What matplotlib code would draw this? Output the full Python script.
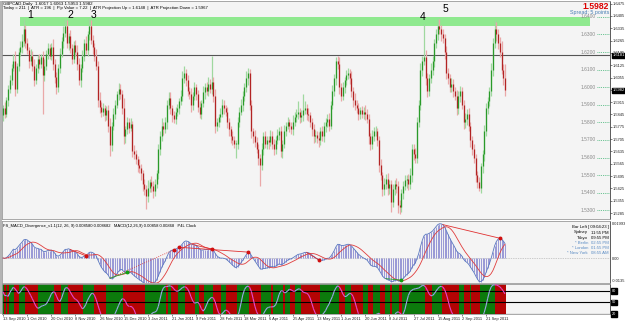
import matplotlib
matplotlib.use("Agg")
import matplotlib.pyplot as plt
from matplotlib.collections import LineCollection
import numpy as np
import pandas as pd

plt.rcParams['font.family'] = ['Liberation Sans', 'DejaVu Sans']

# ---------------- data (prices in 1/10000 units) ----------------
close_pips = [
    15880,15850,15930,15990,16040,16110,16150,15990,16120,16200,16230,16260,16330,16250,16210,16150,16180,16120,16040,16110,
    16160,16130,16170,16070,16120,16190,16220,16180,16230,16130,16060,16000,16110,16190,16260,16310,16350,16250,16290,16220,
    16160,16240,16200,16130,16040,16110,16180,16250,16210,16300,16350,16270,16230,16180,16120,15930,15890,15860,15880,15840,
    15870,15780,15670,15780,15850,15900,15960,15990,15960,15880,15720,15760,15800,15770,15790,15640,15620,15590,15560,15540,
    15510,15450,15420,15380,15430,15460,15440,15410,15450,15510,15650,15720,15780,15760,15800,15900,15940,15880,15840,15820,
    15860,15880,15920,15950,16050,16080,16040,15980,15960,15900,15950,16000,15960,15890,15850,15910,15970,16000,15980,16020,
    15990,16030,15950,15780,15800,15830,15850,15900,15880,15860,15800,15760,15720,15700,15680,15680,15800,15860,15900,15950,
    16000,16050,16080,15900,15750,15720,15690,15650,15600,15560,15650,15720,15680,15700,15690,15720,15680,15650,15700,15730,
    15750,15640,15680,15750,15780,15800,15780,15760,15800,15830,15850,15860,15830,15840,15870,15880,15850,15840,15800,15760,
    15720,15730,15710,15700,15750,15720,15780,15800,15820,15780,15900,15980,16050,16150,16130,16000,15950,16000,16040,16070,
    16080,16050,15980,15930,15900,15880,15850,15870,15850,15860,15850,15820,15720,15680,15720,15750,15750,15700,15560,15500,
    15420,15450,15480,15430,15450,15350,15420,15450,15440,15330,15320,15400,15440,15470,15480,15450,15500,15650,15620,15600,
    15800,15900,16100,16150,16170,16050,15980,16050,16100,16150,16250,16300,16350,16330,16300,16280,16200,16080,16050,16000,
    16020,15980,15950,15880,15950,15980,15900,15800,15820,15850,15780,15700,15650,15600,15500,15460,15430,15550,15620,15750,
    15880,15920,15980,16100,16250,16330,16300,16250,16200,16100,16050,15982,
]
upper_wick = [
    20,35,15,25,30,20,40,55,20,25,30,45,60,25,30,20,35,25,40,20,
    25,30,20,35,40,20,30,25,20,45,30,25,20,30,25,35,40,30,20,35,
    25,20,30,40,35,20,30,25,40,20,45,30,25,20,35,30,40,25,30,20,
    25,30,45,20,30,25,20,35,30,25,60,20,30,25,35,20,30,25,20,30,
    25,20,30,25,40,20,35,25,30,20,25,30,45,20,30,25,35,30,20,25,
    30,25,20,35,40,40,25,30,20,35,25,30,20,25,30,20,35,25,30,40,
    25,150,30,40,25,20,30,35,25,20,30,25,20,30,25,20,30,25,35,30,
    25,40,30,25,30,20,35,25,30,20,35,25,30,20,25,35,30,25,20,30,
    25,30,20,35,25,30,20,25,40,30,25,60,20,30,90,40,25,30,20,25,
    30,25,20,35,25,30,20,25,30,35,20,30,25,20,30,40,25,30,20,25,
    30,25,40,20,35,25,30,20,25,30,40,25,30,20,35,25,30,20,25,30,
    20,35,25,30,20,25,30,20,35,25,30,20,25,30,20,25,40,30,25,35,
    30,25,40,30,190,40,30,25,35,30,25,30,40,35,25,30,20,35,30,25,
    30,25,20,35,30,25,20,30,35,25,30,20,25,30,20,25,30,20,25,35,
    30,25,20,35,30,50,40,30,35,60,30,80,
]
lower_wick = [
    30,25,20,35,25,30,20,40,25,30,20,35,25,30,20,40,25,30,35,20,
    30,25,20,220,35,25,30,20,25,30,35,40,25,30,20,35,25,30,40,25,
    30,25,20,35,30,40,25,30,20,35,30,25,40,30,25,40,35,30,25,30,
    25,35,60,30,25,30,20,35,25,30,40,35,25,30,20,35,30,25,40,30,
    35,40,30,70,30,25,35,40,30,25,30,35,25,30,20,35,25,30,40,25,
    30,25,35,20,30,25,35,30,25,40,30,25,35,30,25,30,20,35,25,30,
    25,30,35,40,30,25,30,20,35,25,30,40,35,30,25,80,30,25,20,35,
    30,25,35,30,40,35,30,25,40,120,30,35,25,30,40,25,30,35,30,25,
    30,35,40,25,30,20,35,25,30,20,25,30,35,25,30,20,35,30,25,40,
    35,30,25,40,30,25,30,35,25,30,20,25,30,35,25,40,30,25,35,30,
    25,30,35,40,30,25,35,30,25,30,35,25,40,35,30,25,30,35,40,30,
    40,35,30,45,35,60,30,35,40,45,40,30,35,25,40,35,30,40,35,30,
    30,25,30,35,25,40,35,30,25,30,35,25,30,25,35,30,40,35,30,25,
    30,35,25,40,30,35,25,40,30,35,30,40,35,30,40,35,20,30,35,40,
    30,35,25,30,35,30,40,35,30,25,35,30,
]
first_open_pips = 15840

date_pos = [0, 14, 28, 42, 56, 70, 84, 98, 112, 126, 140, 154, 168, 182, 196, 210, 224, 238, 252, 266, 280]
date_labels = ['13 Sep 2010', '1 Oct 2010', '20 Oct 2010', '8 Nov 2010', '26 Nov 2010', '15 Dec 2010',
               '3 Jan 2011', '21 Jan 2011', '9 Feb 2011', '28 Feb 2011', '18 Mar 2011', '6 Apr 2011',
               '25 Apr 2011', '13 May 2011', '1 Jun 2011', '20 Jun 2011', '8 Jul 2011', '27 Jul 2011',
               '15 Aug 2011', '2 Sep 2011', '21 Sep 2011']

price_tick_labels = ['1.6475', '1.6405', '1.6335', '1.6265', '1.6195', '1.6125', '1.6055', '1.5985', '1.5915',
                     '1.5845', '1.5775', '1.5705', '1.5635', '1.5565', '1.5495', '1.5425', '1.5355', '1.5285']
level_labels = ['1.6400', '1.6300', '1.6200', '1.6100', '1.6000', '1.5900',
                '1.5800', '1.5700', '1.5600', '1.5500', '1.5400', '1.5300']

zone_low, zone_high = 1.6345, 1.6400
zone_bars = (10, 340)
hline_level = 1.6181
last_price = '1.5982'

peak_names = ['1', '2', '3', '4', '5']
peak_bars = [12, 36, 50, 244, 252]

red_div = [(39, 48), (102, 142), (110, 121), (176, 183), (255, 288)]
red_div_dotted = [(62, 99)]
green_div = [(62, 72), (222, 231)]
red_marks = [48, 99, 102, 121, 142, 183, 288]
green_marks = [72, 231]

header1 = 'GBPCAD,Daily  1.6017 1.6063 1.5953 1.5982'
header2 = 'Today = 211  |  ATR = 196  |  Pip Value = 7.22  |  ATR Projection Up = 1.6148  |  ATR Projection Down = 1.5967'
macd_header = 'FS_MACD_Divergence_v1.1(12, 26, 9) 0.008580 0.008682   MACD(12,26,9) 0.00858 0.00868   P4L Clock'
clock_names = ['Sydney', 'Tokyo', '* Berlin', '* London', '* New York']
clock_times = ['11:55 PM', '09:55 PM', '02:55 PM', '01:55 PM', '08:55 AM']

# ---------------- derived series ----------------
n = len(close_pips)
assert len(upper_wick) == n and len(lower_wick) == n, (n, len(upper_wick), len(lower_wick))
idx = np.arange(n)
closes = np.array(close_pips) / 10000.0
opens = np.concatenate([[first_open_pips], close_pips[:-1]]) / 10000.0
highs = np.maximum(opens, closes) + np.array(upper_wick) / 10000.0
lows = np.minimum(opens, closes) - np.array(lower_wick) / 10000.0
bull = closes >= opens

cs = pd.Series(closes)
macd = (cs.ewm(span=12, adjust=False).mean() - cs.ewm(span=26, adjust=False).mean()).values
signal = pd.Series(macd).rolling(9, min_periods=1).mean().values

hh = pd.Series(highs).rolling(14, min_periods=1).max()
ll = pd.Series(lows).rolling(14, min_periods=1).min()
k = 100 * (cs - ll) / (hh - ll)
slowk = k.rolling(3, min_periods=1).mean().rolling(3, min_periods=1).mean().values

# ---------------- layout helpers ----------------
W, H = 625, 323
fig = plt.figure(figsize=(W / 100, H / 100), dpi=100)
fig.patch.set_facecolor('white')

def rect(x0, y0, x1, y1):
    return [x0 / W, 1 - y1 / H, (x1 - x0) / W, (y1 - y0) / H]

def ftext(x, y, s, **kw):
    kw.setdefault('va', 'center')
    return fig.text(x / W, 1 - y / H, s, **kw)

PX = 1.725
X0 = 3.0
xl = ((2 - X0) / PX, (610 - X0) / PX)

def px2bar(x):
    return (x - X0) / PX

BG = '#f4f4f4'
SPINE = '#9a9a9a'

def style(ax):
    ax.set_facecolor(BG)
    for s in ax.spines.values():
        s.set_color(SPINE)
        s.set_linewidth(0.6)
    ax.spines['right'].set_color('#404040')
    ax.set_xlim(*xl)

# left border strip
fig.add_artist(plt.Rectangle((0, 1 - 314 / H), 2 / W, 313 / H, transform=fig.transFigure,
                             color='#b4b4b4', lw=0))

# ---------------- main price panel ----------------
ax = fig.add_axes(rect(2, 1, 610, 219))
style(ax)
ax.set_ylim(1.52511, 1.64898)

ax.fill_between(zone_bars, zone_low, zone_high, color='#8fe98f', lw=0, zorder=1)
ax.axhline(hline_level, color='#555555', lw=0.8, zorder=1.5)

wick_col = np.where(bull, '#9fd89f', '#eaa8a8')
body_col = np.where(bull, '#2a9a2a', '#b22424')
ax.vlines(idx, lows, highs, colors=wick_col, lw=0.9, zorder=2)
bmin = np.minimum(opens, closes)
bmax = np.maximum(np.maximum(opens, closes), bmin + 0.0003)
ax.vlines(idx, bmin, bmax, colors=body_col, lw=0.9, zorder=3)

# level labels with dotted green lines at right
for lab in level_labels:
    v = float(lab)
    ax.hlines(v, px2bar(597), px2bar(609), colors='#3cb371', linestyles=(0, (1, 1.2)), lw=0.6, zorder=2)
    ax.text(px2bar(596), v, lab, ha='right', va='center', fontsize=3.5, color='#8a8a8a', zorder=4)

for name, b, (dx, dy) in zip(peak_names, peak_bars, [(6, 4), (5, 4), (4, 3), (-1, 7), (8, 10)]):
    ax.annotate(name, (b, highs[b]), xytext=(dx * 0.72, dy * 0.72), textcoords='offset points',
                ha='center', va='center', fontsize=7.5, color='black', zorder=5)

ax.set_xticks([])
ax.yaxis.tick_right()
ax.set_yticks([float(t) for t in price_tick_labels])
ax.set_yticklabels(price_tick_labels)
ax.tick_params(axis='y', labelsize=2.9, length=1.5, width=0.4, pad=0.8, colors='#202020')

for val, txt in [(hline_level, f'{hline_level:.4f}'), (float(last_price), last_price)]:
    ax.text(1.004, val, txt, transform=ax.get_yaxis_transform(), fontsize=2.9, color='white',
            ha='left', va='center', zorder=10,
            bbox=dict(boxstyle='square,pad=0.15', fc='black', ec='black'), clip_on=False)

ftext(3, 3.5, header1, fontsize=3.2, color='black')
ftext(3, 8.5, header2, fontsize=3.1, color='black')
ftext(609, 6.5, last_price, ha='right', fontsize=6.2, color='#dd0000', weight='bold')
ftext(609, 12.5, 'Spread: 5 points', ha='right', fontsize=3.9, color='#4a7fb5')

# ---------------- MACD panel ----------------
ax2 = fig.add_axes(rect(2, 221, 610, 283))
style(ax2)
T = max(macd.max(), signal.max()) * 1.08
B = T * 25 / 37
ax2.set_ylim(-B, T)
ax2.axhline(0, color='#a0a0a0', ls=(0, (1, 1.5)), lw=0.5)
ax2.vlines(idx, 0, macd, colors='#9a9ad6', lw=0.75, zorder=2)
ax2.plot(idx, macd, color='#5a78c0', lw=0.6, zorder=3)
ax2.plot(idx, signal, color='#e03c3c', lw=0.6, zorder=3)
for a, b in red_div:
    ax2.plot([a, b], [macd[a], macd[b]], color='#e03030', lw=0.6, zorder=4)
for a, b in red_div_dotted:
    ax2.plot([a, b], [macd[a], macd[b]], color='#e03030', lw=0.6, ls=':', zorder=4)
for a, b in green_div:
    ax2.plot([a, b], [macd[a], macd[b]], color='#2aa02a', lw=0.6, zorder=4)
ax2.plot(red_marks, macd[red_marks], 'o', ms=1.8, color='#d01010', zorder=5)
ax2.plot(green_marks, macd[green_marks], 'o', ms=1.8, color='#10a010', zorder=5)
ax2.set_xticks([])
ax2.yaxis.tick_right()
ax2.set_yticks([T * 0.93, 0, -B * 0.9])
ax2.set_yticklabels([f'{T:.5f}', '0.00', f'{-B:.4f}'])
ax2.tick_params(axis='y', labelsize=2.9, length=0, pad=1.5, colors='#202020')

ftext(3, 226, macd_header, fontsize=3.0, color='black')
ftext(609, 227, 'Bar Left [ 09:04:23 ]', ha='right', fontsize=3.1, color='black')
for j, (nm, tm) in enumerate(zip(clock_names, clock_times)):
    y = 232.5 + j * 5.2
    col = 'black' if j < 2 else '#5b8cc4'
    ftext(588, y, nm, ha='right', fontsize=3.1, color=col)
    ftext(609, y, tm, ha='right', fontsize=3.1, color=col)

# ---------------- oscillator panel ----------------
ax3 = fig.add_axes(rect(2, 284, 610, 314))
style(ax3)
ax3.set_ylim(20, 98)
rising = np.concatenate([[True], np.diff(slowk) >= 0])
stripe = np.where(rising, '#0c7a0c', '#b40404')
ax3.bar(idx, 100, bottom=0, width=1.0, color=stripe, lw=0, zorder=1)
for lev in (80, 50, 20):
    ax3.axhline(lev, color='black', lw=0.8, zorder=2)
pts = np.column_stack([idx, slowk])
segs = np.stack([pts[:-1], pts[1:]], axis=1)
seg_col = np.where(np.diff(slowk) >= 0, '#9aa6e8', '#e448cc')
ax3.add_collection(LineCollection(segs, colors=seg_col, lw=0.8, zorder=3))
ax3.set_yticks([])
for lev in (80, 50, 20):
    ax3.text(1.003, lev, f'{lev}', transform=ax3.get_yaxis_transform(), fontsize=2.8, color='white',
             ha='left', va='center', bbox=dict(boxstyle='square,pad=0.15', fc='black', ec='black'), clip_on=False)
ax3.set_xticks(date_pos)
ax3.set_xticklabels(date_labels, ha='left')
ax3.tick_params(axis='x', labelsize=2.9, length=1.5, width=0.4, pad=0.8, colors='#202020')

fig.savefig('out.png', dpi=100, facecolor='white')
